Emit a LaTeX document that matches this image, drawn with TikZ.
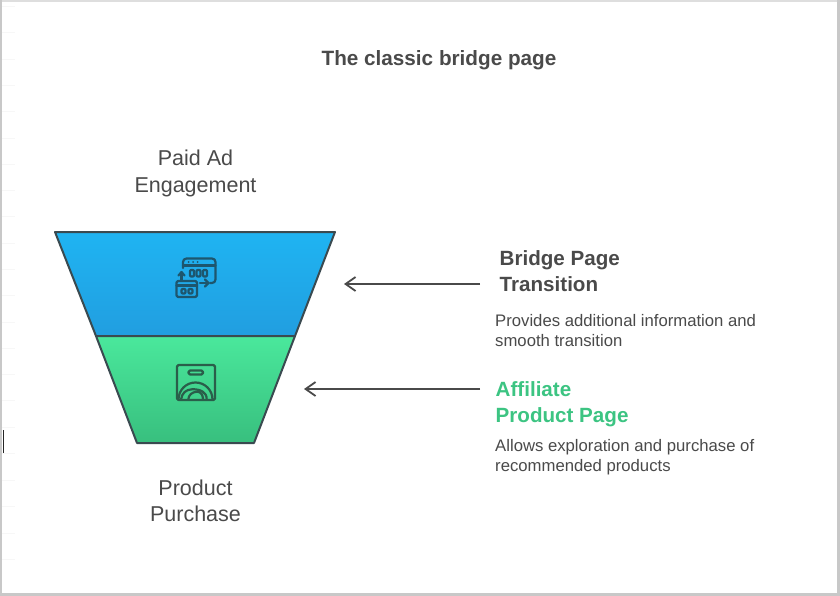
\documentclass[tikz,border=0pt]{standalone}
\usepackage{fontspec}
\setmainfont{Liberation Sans}
\usetikzlibrary{arrows.meta}
\definecolor{ink}{HTML}{4A4A4A}
\definecolor{funnelline}{HTML}{3A4A50}
\definecolor{icona}{HTML}{1D566E}
\definecolor{iconb}{HTML}{2A5E4A}
\definecolor{bluetop}{HTML}{1FB4F2}
\definecolor{bluebot}{HTML}{219EE0}
\definecolor{greentop}{HTML}{4AE89C}
\definecolor{greenbot}{HTML}{38BF7E}
\definecolor{accent}{HTML}{3CC482}
\definecolor{frame}{HTML}{C8C8C8}
\tikzset{
  lbl/.style={text=ink,align=center,inner sep=0pt,font=\fontsize{21.5}{26.3}\selectfont},
  head/.style={text=ink,align=left,anchor=north west,inner sep=0pt,font=\bfseries\fontsize{20.6}{26}\selectfont},
  body/.style={text=ink,align=left,anchor=north west,inner sep=0pt,font=\fontsize{16.7}{20}\selectfont},
  arrowline/.style={draw=ink,line width=1.8pt,-{Straight Barb[length=10pt,width=14pt,line width=1.8pt]}},
  funnel/.style={draw=funnelline,line width=2pt,line join=round},
  iconA/.style={draw=icona,line width=2.2pt,line join=round,line cap=round},
  iconB/.style={draw=iconb,line width=2.2pt,line join=round,line cap=round},
}
\begin{document}
\begin{tikzpicture}[x=1pt,y=-1pt]
\useasboundingbox (0,0) rectangle (840,596);
\fill[white] (0,0) rectangle (840,596);
% frame
\fill[frame!60] (0,0) rectangle (840,2);
\fill[frame] (0,0) rectangle (2,596);
\fill[frame] (837,0) rectangle (840,596);
\fill[frame] (0,593) rectangle (840,596);
\foreach \yy in {6,32,59,85,111,138,164,190,216,243,269,295,322,348,374,400,427,453,480,506,533,559}
  \fill[black!3] (2,\yy) rectangle (15,\yy+1);
\fill[black!85] (3,430) rectangle (4,453);
% title
\node[text=ink,inner sep=0pt,font=\bfseries\fontsize{20.7}{26}\selectfont] (title) at (439,60.5) {The classic bridge page};
% funnel
\path[funnel,top color=bluetop,bottom color=bluebot] (55,232) -- (335,232) -- (295,336) -- (96,336) -- cycle;
\path[funnel,top color=greentop,bottom color=greenbot] (96,336) -- (295,336) -- (254,443) -- (137,443) -- cycle;
% icon 1
\begin{scope}[iconA]
  \draw[rounded corners=3.5pt] (183,268) -- (183,258.5) -- (215.5,258.5) -- (215.5,283) -- (210,283);
  \draw (183,265.5) -- (215.5,265.5);
  \foreach \xx in {188.5,193,197.5} \fill[icona] (\xx,262) circle (1pt);
  \foreach \xx in {190,196.5,203} \draw[rounded corners=1pt] (\xx,270) rectangle (\xx+4,276.5);
  \draw (181.5,280) -- (181.5,272.5);
  \draw (178.5,275.5) -- (181.5,272) -- (184.5,275.5);
  \draw[rounded corners=1.5pt] (176.5,281) rectangle (197,297);
  \draw (176.5,285.5) -- (197,285.5);
  \draw[rounded corners=1pt] (181.5,289) rectangle (185.5,293.5);
  \draw[rounded corners=1pt] (188.5,289) rectangle (192.5,293.5);
  \draw (200,283) -- (208,283);
  \draw (205,279.5) -- (208.5,283) -- (205,286.5);
\end{scope}
% icon 2
\begin{scope}[iconB]
  \draw[rounded corners=1.5pt] (177,365) rectangle (215,400);
  \draw[rounded corners=1.5pt] (188.5,370.5) rectangle (203,374.5);
  \draw (178.5,399.5) arc[start angle=180,end angle=360,x radius=17,y radius=17];
  \draw (181,399.5) .. controls (182,393) and (186,389.5) .. (192,389.3) .. controls (200,389) and (207,392) .. (206.7,399.5);
  \draw (188.3,399.5) .. controls (188.5,395) and (192,392) .. (197,391.7) .. controls (201,391.7) and (203,395) .. (203,399.5);
\end{scope}
% side labels
\node[lbl] (top) at (195.5,173.5) {Paid Ad\\Engagement};
\node[lbl] (bottom) at (195.5,501) {Product\\Purchase};
\node[head] (h1) at (499.5,250.5) {Bridge Page\\Transition};
\node[body] (b1) at (495,314) {Provides additional information and\\smooth transition};
\node[head,text=accent] (h2) at (495.5,381) {Affiliate\\Product Page};
\node[body] (b2) at (495,439) {Allows exploration and purchase of\\recommended products};
% arrows
\coordinate (a1s) at (480,284);
\coordinate (a1e) at (344,284);
\coordinate (a2s) at (480,389);
\coordinate (a2e) at (304,389);
\draw[arrowline] (a1s) -- (a1e);
\draw[arrowline] (a2s) -- (a2e);
\end{tikzpicture}
\end{document}
